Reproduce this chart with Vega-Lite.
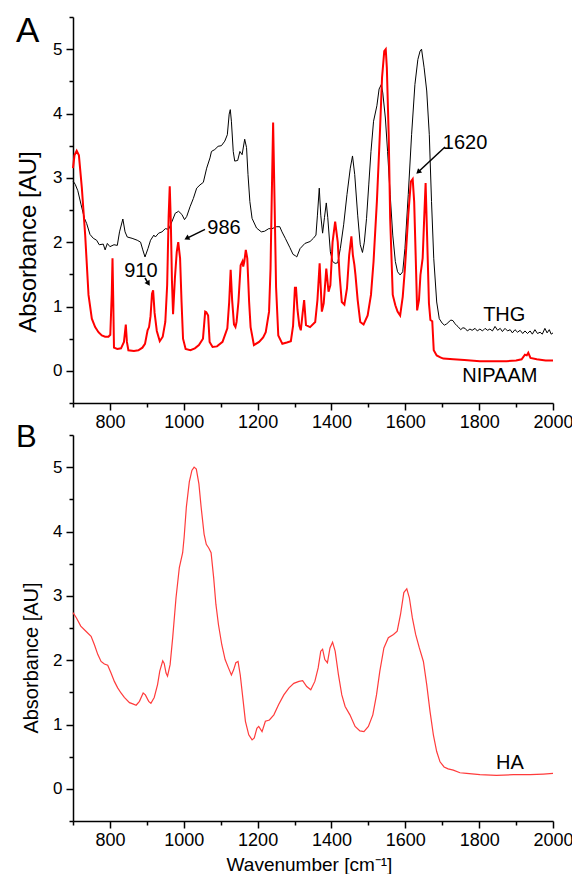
{
  "$schema": "https://vega.github.io/schema/vega-lite/v6.json",
  "padding": {"left": 16, "top": 8, "right": 0, "bottom": 0},
  "background": "white",
  "config": {
    "view": {"stroke": null},
    "font": "Liberation Sans",
    "axis": {
      "grid": false,
      "domainColor": "black",
      "domainWidth": 1.5,
      "tickColor": "black",
      "tickWidth": 1.5,
      "labelColor": "black",
      "titleColor": "black",
      "labelFont": "Liberation Sans",
      "titleFont": "Liberation Sans",
      "titleFontWeight": "normal",
      "labelOverlap": false,
      "labelFlush": false
    },
    "text": {"font": "Liberation Sans", "color": "black"}
  },
  "datasets": {
    "thg": [
      {"wn":700,"a":2.95},{"wn":706,"a":2.9},{"wn":713,"a":2.8},{"wn":722,"a":2.58},{"wn":731,"a":2.37},{"wn":737,"a":2.29},{"wn":746,"a":2.12},{"wn":755,"a":2.06},{"wn":764,"a":2.03},{"wn":771,"a":1.96},{"wn":782,"a":1.97},{"wn":787,"a":1.88},{"wn":793,"a":1.98},{"wn":800,"a":1.93},{"wn":811,"a":1.96},{"wn":820,"a":1.95},{"wn":826,"a":2.16},{"wn":835,"a":2.36},{"wn":841,"a":2.16},{"wn":847,"a":2.08},{"wn":860,"a":2.06},{"wn":874,"a":2.03},{"wn":883,"a":2.0},{"wn":889,"a":1.88},{"wn":895,"a":1.77},{"wn":903,"a":1.9},{"wn":910,"a":2.03},{"wn":919,"a":2.11},{"wn":923,"a":2.08},{"wn":932,"a":2.14},{"wn":941,"a":2.16},{"wn":950,"a":2.21},{"wn":959,"a":2.2},{"wn":968,"a":2.32},{"wn":977,"a":2.45},{"wn":986,"a":2.48},{"wn":995,"a":2.43},{"wn":1002,"a":2.35},{"wn":1008,"a":2.4},{"wn":1017,"a":2.55},{"wn":1026,"a":2.68},{"wn":1035,"a":2.84},{"wn":1044,"a":2.89},{"wn":1053,"a":2.93},{"wn":1062,"a":3.15},{"wn":1071,"a":3.31},{"wn":1075,"a":3.41},{"wn":1084,"a":3.44},{"wn":1093,"a":3.49},{"wn":1102,"a":3.5},{"wn":1111,"a":3.57},{"wn":1118,"a":3.67},{"wn":1123,"a":3.99},{"wn":1126,"a":4.06},{"wn":1129,"a":3.88},{"wn":1134,"a":3.41},{"wn":1138,"a":3.26},{"wn":1146,"a":3.27},{"wn":1152,"a":3.41},{"wn":1158,"a":3.36},{"wn":1165,"a":3.6},{"wn":1170,"a":3.47},{"wn":1174,"a":3.05},{"wn":1179,"a":2.63},{"wn":1185,"a":2.37},{"wn":1197,"a":2.22},{"wn":1210,"a":2.16},{"wn":1219,"a":2.17},{"wn":1230,"a":2.21},{"wn":1239,"a":2.21},{"wn":1251,"a":2.24},{"wn":1260,"a":2.24},{"wn":1266,"a":2.16},{"wn":1275,"a":2.06},{"wn":1287,"a":1.92},{"wn":1296,"a":1.81},{"wn":1302,"a":1.79},{"wn":1306,"a":1.77},{"wn":1315,"a":1.9},{"wn":1328,"a":1.98},{"wn":1342,"a":2.01},{"wn":1351,"a":2.06},{"wn":1358,"a":2.11},{"wn":1362,"a":2.42},{"wn":1367,"a":2.84},{"wn":1371,"a":2.42},{"wn":1376,"a":2.14},{"wn":1381,"a":2.38},{"wn":1386,"a":2.61},{"wn":1390,"a":2.38},{"wn":1397,"a":1.85},{"wn":1403,"a":1.7},{"wn":1410,"a":1.67},{"wn":1417,"a":1.68},{"wn":1424,"a":1.9},{"wn":1433,"a":2.27},{"wn":1442,"a":2.74},{"wn":1451,"a":3.15},{"wn":1457,"a":3.34},{"wn":1463,"a":3.05},{"wn":1471,"a":2.42},{"wn":1478,"a":1.96},{"wn":1484,"a":1.84},{"wn":1489,"a":2.0},{"wn":1495,"a":2.37},{"wn":1501,"a":2.89},{"wn":1507,"a":3.41},{"wn":1514,"a":3.88},{"wn":1523,"a":4.12},{"wn":1529,"a":4.38},{"wn":1535,"a":4.45},{"wn":1539,"a":4.32},{"wn":1546,"a":3.93},{"wn":1552,"a":3.41},{"wn":1559,"a":2.74},{"wn":1566,"a":2.11},{"wn":1573,"a":1.7},{"wn":1579,"a":1.54},{"wn":1586,"a":1.49},{"wn":1593,"a":1.54},{"wn":1599,"a":1.9},{"wn":1608,"a":2.74},{"wn":1617,"a":3.67},{"wn":1626,"a":4.45},{"wn":1634,"a":4.84},{"wn":1640,"a":4.97},{"wn":1644,"a":5.0},{"wn":1651,"a":4.71},{"wn":1658,"a":4.35},{"wn":1665,"a":3.67},{"wn":1671,"a":2.63},{"wn":1677,"a":1.75},{"wn":1685,"a":1.07},{"wn":1692,"a":0.81},{"wn":1700,"a":0.74},{"wn":1706,"a":0.71},{"wn":1712,"a":0.73},{"wn":1718,"a":0.76},{"wn":1723,"a":0.79},{"wn":1729,"a":0.78},{"wn":1735,"a":0.73},{"wn":1740,"a":0.7},{"wn":1744,"a":0.68},{"wn":1750,"a":0.64},{"wn":1756,"a":0.67},{"wn":1762,"a":0.66},{"wn":1768,"a":0.62},{"wn":1775,"a":0.65},{"wn":1781,"a":0.63},{"wn":1789,"a":0.66},{"wn":1795,"a":0.62},{"wn":1802,"a":0.65},{"wn":1809,"a":0.62},{"wn":1816,"a":0.66},{"wn":1823,"a":0.63},{"wn":1829,"a":0.65},{"wn":1836,"a":0.62},{"wn":1843,"a":0.69},{"wn":1850,"a":0.63},{"wn":1857,"a":0.66},{"wn":1863,"a":0.61},{"wn":1870,"a":0.66},{"wn":1877,"a":0.62},{"wn":1884,"a":0.64},{"wn":1890,"a":0.59},{"wn":1897,"a":0.64},{"wn":1904,"a":0.6},{"wn":1911,"a":0.63},{"wn":1918,"a":0.58},{"wn":1924,"a":0.62},{"wn":1931,"a":0.58},{"wn":1938,"a":0.62},{"wn":1944,"a":0.57},{"wn":1951,"a":0.64},{"wn":1958,"a":0.58},{"wn":1965,"a":0.6},{"wn":1971,"a":0.57},{"wn":1978,"a":0.66},{"wn":1984,"a":0.59},{"wn":1990,"a":0.64},{"wn":1995,"a":0.57},{"wn":2000,"a":0.59}
    ],
    "nipaam": [
      {"wn":700,"a":3.15},{"wn":704,"a":3.35},{"wn":710,"a":3.42},{"wn":716,"a":3.35},{"wn":724,"a":2.84},{"wn":733,"a":2.11},{"wn":742,"a":1.18},{"wn":751,"a":0.81},{"wn":760,"a":0.68},{"wn":769,"a":0.6},{"wn":778,"a":0.55},{"wn":787,"a":0.53},{"wn":796,"a":0.53},{"wn":801,"a":0.56},{"wn":805,"a":1.2},{"wn":807,"a":1.75},{"wn":809,"a":1.1},{"wn":811,"a":0.36},{"wn":820,"a":0.34},{"wn":830,"a":0.35},{"wn":838,"a":0.45},{"wn":843,"a":0.72},{"wn":846,"a":0.45},{"wn":850,"a":0.32},{"wn":865,"a":0.31},{"wn":877,"a":0.32},{"wn":888,"a":0.36},{"wn":895,"a":0.42},{"wn":902,"a":0.63},{"wn":906,"a":0.68},{"wn":910,"a":0.85},{"wn":914,"a":1.2},{"wn":917,"a":1.25},{"wn":921,"a":0.9},{"wn":927,"a":0.62},{"wn":935,"a":0.46},{"wn":943,"a":0.53},{"wn":950,"a":0.76},{"wn":955,"a":1.33},{"wn":959,"a":2.4},{"wn":962,"a":2.87},{"wn":965,"a":2.3},{"wn":968,"a":1.4},{"wn":971,"a":0.88},{"wn":976,"a":1.44},{"wn":981,"a":1.85},{"wn":985,"a":2.0},{"wn":990,"a":1.75},{"wn":994,"a":1.07},{"wn":998,"a":0.5},{"wn":1005,"a":0.34},{"wn":1018,"a":0.32},{"wn":1030,"a":0.35},{"wn":1041,"a":0.4},{"wn":1052,"a":0.5},{"wn":1058,"a":0.92},{"wn":1061,"a":0.91},{"wn":1066,"a":0.86},{"wn":1070,"a":0.45},{"wn":1078,"a":0.37},{"wn":1090,"a":0.38},{"wn":1105,"a":0.45},{"wn":1118,"a":0.66},{"wn":1123,"a":1.07},{"wn":1127,"a":1.57},{"wn":1131,"a":1.1},{"wn":1136,"a":0.72},{"wn":1140,"a":0.68},{"wn":1143,"a":0.76},{"wn":1148,"a":1.07},{"wn":1154,"a":1.64},{"wn":1159,"a":1.7},{"wn":1161,"a":1.62},{"wn":1164,"a":1.7},{"wn":1168,"a":1.88},{"wn":1172,"a":1.75},{"wn":1177,"a":1.07},{"wn":1181,"a":0.68},{"wn":1190,"a":0.4},{"wn":1204,"a":0.45},{"wn":1215,"a":0.52},{"wn":1222,"a":0.6},{"wn":1231,"a":0.92},{"wn":1235,"a":1.59},{"wn":1238,"a":2.6},{"wn":1242,"a":3.86},{"wn":1246,"a":2.6},{"wn":1250,"a":1.3},{"wn":1256,"a":0.55},{"wn":1267,"a":0.42},{"wn":1279,"a":0.44},{"wn":1290,"a":0.46},{"wn":1296,"a":0.7},{"wn":1301,"a":1.29},{"wn":1304,"a":1.29},{"wn":1308,"a":0.95},{"wn":1313,"a":0.7},{"wn":1317,"a":0.63},{"wn":1322,"a":0.9},{"wn":1326,"a":1.1},{"wn":1331,"a":0.71},{"wn":1342,"a":0.68},{"wn":1356,"a":0.76},{"wn":1362,"a":1.1},{"wn":1368,"a":1.67},{"wn":1371,"a":1.3},{"wn":1374,"a":0.92},{"wn":1379,"a":1.05},{"wn":1386,"a":1.59},{"wn":1392,"a":1.23},{"wn":1397,"a":1.33},{"wn":1403,"a":2.0},{"wn":1410,"a":2.32},{"wn":1417,"a":2.0},{"wn":1422,"a":1.49},{"wn":1428,"a":1.07},{"wn":1435,"a":1.03},{"wn":1442,"a":1.28},{"wn":1448,"a":1.8},{"wn":1454,"a":2.09},{"wn":1458,"a":1.8},{"wn":1462,"a":1.65},{"wn":1465,"a":1.49},{"wn":1471,"a":1.1},{"wn":1478,"a":0.76},{"wn":1487,"a":0.72},{"wn":1498,"a":0.86},{"wn":1507,"a":1.18},{"wn":1514,"a":1.7},{"wn":1523,"a":2.63},{"wn":1531,"a":3.67},{"wn":1537,"a":4.56},{"wn":1543,"a":4.97},{"wn":1547,"a":5.0},{"wn":1550,"a":4.71},{"wn":1555,"a":3.67},{"wn":1559,"a":2.37},{"wn":1566,"a":1.18},{"wn":1573,"a":1.02},{"wn":1579,"a":0.92},{"wn":1586,"a":0.86},{"wn":1593,"a":1.15},{"wn":1599,"a":1.59},{"wn":1608,"a":2.42},{"wn":1615,"a":2.94},{"wn":1620,"a":2.98},{"wn":1624,"a":2.63},{"wn":1629,"a":1.6},{"wn":1632,"a":0.94},{"wn":1637,"a":1.1},{"wn":1641,"a":1.49},{"wn":1647,"a":1.75},{"wn":1651,"a":2.35},{"wn":1655,"a":2.92},{"wn":1659,"a":2.1},{"wn":1664,"a":1.05},{"wn":1668,"a":0.79},{"wn":1673,"a":0.77},{"wn":1677,"a":0.32},{"wn":1685,"a":0.24},{"wn":1695,"a":0.21},{"wn":1703,"a":0.19},{"wn":1730,"a":0.18},{"wn":1760,"a":0.17},{"wn":1802,"a":0.15},{"wn":1840,"a":0.15},{"wn":1874,"a":0.15},{"wn":1900,"a":0.16},{"wn":1915,"a":0.18},{"wn":1924,"a":0.25},{"wn":1929,"a":0.24},{"wn":1933,"a":0.28},{"wn":1939,"a":0.2},{"wn":1956,"a":0.18},{"wn":1980,"a":0.16},{"wn":2000,"a":0.16}
    ],
    "ha": [
      {"wn":700,"a":2.74},{"wn":709,"a":2.66},{"wn":721,"a":2.53},{"wn":735,"a":2.45},{"wn":749,"a":2.37},{"wn":758,"a":2.24},{"wn":767,"a":2.09},{"wn":776,"a":1.98},{"wn":785,"a":1.94},{"wn":794,"a":1.92},{"wn":803,"a":1.8},{"wn":812,"a":1.67},{"wn":821,"a":1.57},{"wn":830,"a":1.49},{"wn":839,"a":1.42},{"wn":853,"a":1.34},{"wn":862,"a":1.32},{"wn":871,"a":1.3},{"wn":880,"a":1.36},{"wn":890,"a":1.49},{"wn":896,"a":1.46},{"wn":905,"a":1.36},{"wn":911,"a":1.33},{"wn":920,"a":1.42},{"wn":929,"a":1.62},{"wn":935,"a":1.83},{"wn":943,"a":1.99},{"wn":947,"a":1.95},{"wn":952,"a":1.8},{"wn":956,"a":1.75},{"wn":963,"a":1.93},{"wn":970,"a":2.35},{"wn":979,"a":2.97},{"wn":988,"a":3.44},{"wn":997,"a":3.67},{"wn":1001,"a":3.91},{"wn":1007,"a":4.38},{"wn":1015,"a":4.77},{"wn":1022,"a":4.95},{"wn":1028,"a":5.0},{"wn":1034,"a":4.97},{"wn":1041,"a":4.74},{"wn":1047,"a":4.38},{"wn":1055,"a":3.96},{"wn":1061,"a":3.8},{"wn":1068,"a":3.74},{"wn":1074,"a":3.67},{"wn":1081,"a":3.28},{"wn":1087,"a":2.87},{"wn":1094,"a":2.55},{"wn":1103,"a":2.24},{"wn":1112,"a":2.01},{"wn":1121,"a":1.88},{"wn":1129,"a":1.77},{"wn":1135,"a":1.85},{"wn":1141,"a":1.96},{"wn":1147,"a":1.98},{"wn":1153,"a":1.77},{"wn":1160,"a":1.41},{"wn":1167,"a":1.05},{"wn":1176,"a":0.84},{"wn":1185,"a":0.76},{"wn":1191,"a":0.79},{"wn":1198,"a":0.94},{"wn":1203,"a":0.97},{"wn":1212,"a":0.89},{"wn":1221,"a":1.05},{"wn":1232,"a":1.07},{"wn":1244,"a":1.15},{"wn":1257,"a":1.31},{"wn":1271,"a":1.46},{"wn":1285,"a":1.57},{"wn":1298,"a":1.64},{"wn":1312,"a":1.67},{"wn":1322,"a":1.68},{"wn":1333,"a":1.59},{"wn":1344,"a":1.54},{"wn":1355,"a":1.67},{"wn":1364,"a":1.88},{"wn":1371,"a":2.14},{"wn":1376,"a":2.17},{"wn":1382,"a":2.01},{"wn":1389,"a":1.96},{"wn":1396,"a":2.19},{"wn":1403,"a":2.28},{"wn":1410,"a":2.14},{"wn":1419,"a":1.77},{"wn":1428,"a":1.46},{"wn":1437,"a":1.28},{"wn":1450,"a":1.15},{"wn":1464,"a":0.97},{"wn":1477,"a":0.9},{"wn":1488,"a":0.89},{"wn":1500,"a":0.97},{"wn":1512,"a":1.15},{"wn":1522,"a":1.46},{"wn":1531,"a":1.83},{"wn":1542,"a":2.19},{"wn":1554,"a":2.35},{"wn":1568,"a":2.4},{"wn":1578,"a":2.45},{"wn":1587,"a":2.71},{"wn":1596,"a":3.05},{"wn":1604,"a":3.11},{"wn":1611,"a":2.97},{"wn":1619,"a":2.66},{"wn":1628,"a":2.4},{"wn":1638,"a":2.19},{"wn":1649,"a":1.98},{"wn":1658,"a":1.62},{"wn":1667,"a":1.2},{"wn":1676,"a":0.84},{"wn":1685,"a":0.58},{"wn":1694,"a":0.42},{"wn":1705,"a":0.34},{"wn":1716,"a":0.31},{"wn":1730,"a":0.29},{"wn":1748,"a":0.25},{"wn":1766,"a":0.24},{"wn":1802,"a":0.22},{"wn":1847,"a":0.21},{"wn":1893,"a":0.22},{"wn":1938,"a":0.22},{"wn":1974,"a":0.23},{"wn":2000,"a":0.24}
    ],
    "labelsA": [
      {"wn":884,"a":1.46,"label":"910"},
      {"wn":1109,"a":2.13,"label":"986"},
      {"wn":1762,"a":3.45,"label":"1620"},
      {"wn":1868,"a":0.77,"label":"THG"},
      {"wn":1856,"a":-0.17,"label":"NIPAAM"}
    ],
    "arrowsA": [
      {"wn":895,"a":1.443,"wn2":904.2,"a2":1.357},
      {"wn":1057.5,"a":2.2,"wn2":1007.9,"a2":2.06},
      {"wn":1707.5,"a":3.479,"wn2":1634.9,"a2":3.09}
    ]
  },
  "spacing": 32,
  "bounds": "flush",
  "vconcat": [
    {
      "width": 480,
      "height": 386,
      "encoding": {
        "x": {
          "field": "wn", "type": "quantitative",
          "scale": {"domain": [700, 2000], "nice": false, "zero": false},
          "axis": {
            "title": null,
            "values": [700,800,900,1000,1100,1200,1300,1400,1500,1600,1700,1800,1900,2000],
            "format": "d",
            "labelExpr": "datum.value % 200 === 0 ? datum.label : ''",
            "tickSize": {"condition": {"test": "datum.value % 200 === 0", "value": 7}, "value": 4},
            "labelFontSize": 18,
            "labelPadding": 3
          }
        },
        "y": {
          "field": "a", "type": "quantitative",
          "scale": {"domain": [-0.5, 5.5], "nice": false, "zero": false},
          "axis": {
            "title": "Absorbance [AU]",
            "values": [-0.5,0,0.5,1,1.5,2,2.5,3,3.5,4,4.5,5,5.5],
            "labelExpr": "datum.value % 1 === 0 ? '' + datum.value : ''",
            "tickSize": {"condition": {"test": "datum.value % 1 === 0", "value": 7}, "value": 4},
            "labelFontSize": 17,
            "labelPadding": 4,
            "titleFontSize": 24,
            "titleAngle": -90,
            "titleAlign": "center",
            "titleBaseline": "alphabetic",
            "titleX": -38,
            "titleY": 224.5
          }
        }
      },
      "layer": [
        {"data": {"name": "thg"}, "mark": {"type": "line", "color": "black", "strokeWidth": 1}},
        {"data": {"name": "nipaam"}, "mark": {"type": "line", "color": "#ff0000", "strokeWidth": 2}},
        {"data": {"name": "arrowsA"}, "mark": {"type": "rule", "color": "black", "strokeWidth": 1.5},
         "encoding": {"x2": {"field": "wn2"}, "y2": {"field": "a2"}}},
        {"data": {"values": [{"wn": 904.2, "a": 1.357}]}, "mark": {"type": "point", "shape": "triangle-up", "filled": true, "color": "black", "opacity": 1, "size": 35, "angle": 148}},
        {"data": {"values": [{"wn": 1007.9, "a": 2.06}]}, "mark": {"type": "point", "shape": "triangle-up", "filled": true, "color": "black", "opacity": 1, "size": 35, "angle": 242}},
        {"data": {"values": [{"wn": 1634.9, "a": 3.09}]}, "mark": {"type": "point", "shape": "triangle-up", "filled": true, "color": "black", "opacity": 1, "size": 35, "angle": 227}},
        {"data": {"name": "labelsA"}, "mark": {"type": "text", "fontSize": 20, "align": "center", "baseline": "alphabetic"},
         "encoding": {"text": {"field": "label"}}},
        {"data": {"values": [{"wn": 700, "a": 5.5, "label": "A"}]}, "mark": {"type": "text", "fontSize": 35, "align": "left", "baseline": "alphabetic", "dx": -57, "dy": 25},
         "encoding": {"text": {"field": "label"}}}
      ]
    },
    {
      "width": 480,
      "height": 386,
      "encoding": {
        "x": {
          "field": "wn", "type": "quantitative",
          "scale": {"domain": [700, 2000], "nice": false, "zero": false},
          "axis": {
            "title": "Wavenumber [cm⁻¹]",
            "values": [700,800,900,1000,1100,1200,1300,1400,1500,1600,1700,1800,1900,2000],
            "format": "d",
            "labelExpr": "datum.value % 200 === 0 ? datum.label : ''",
            "tickSize": {"condition": {"test": "datum.value % 200 === 0", "value": 7}, "value": 4},
            "labelFontSize": 18,
            "labelPadding": 3,
            "titleFontSize": 19,
            "titleAlign": "center",
            "titleBaseline": "alphabetic",
            "titleX": 236,
            "titleY": 49
          }
        },
        "y": {
          "field": "a", "type": "quantitative",
          "scale": {"domain": [-0.5, 5.5], "nice": false, "zero": false},
          "axis": {
            "title": "Absorbance [AU]",
            "values": [-0.5,0,0.5,1,1.5,2,2.5,3,3.5,4,4.5,5,5.5],
            "labelExpr": "datum.value % 1 === 0 ? '' + datum.value : ''",
            "tickSize": {"condition": {"test": "datum.value % 1 === 0", "value": 7}, "value": 4},
            "labelFontSize": 17,
            "labelPadding": 4,
            "titleFontSize": 20,
            "titleAngle": -90,
            "titleAlign": "center",
            "titleBaseline": "alphabetic",
            "titleX": -35.5,
            "titleY": 222.5
          }
        }
      },
      "layer": [
        {"data": {"name": "ha"}, "mark": {"type": "line", "color": "#ff3b3b", "strokeWidth": 1.2}},
        {"data": {"values": [{"wn": 1883.5, "a": 0.31, "label": "HA"}]}, "mark": {"type": "text", "fontSize": 20, "align": "center", "baseline": "alphabetic"},
         "encoding": {"text": {"field": "label"}}},
        {"data": {"values": [{"wn": 700, "a": 5.5, "label": "B"}]}, "mark": {"type": "text", "fontSize": 31, "align": "left", "baseline": "alphabetic", "dx": -57, "dy": 12},
         "encoding": {"text": {"field": "label"}}}
      ]
    }
  ]
}
